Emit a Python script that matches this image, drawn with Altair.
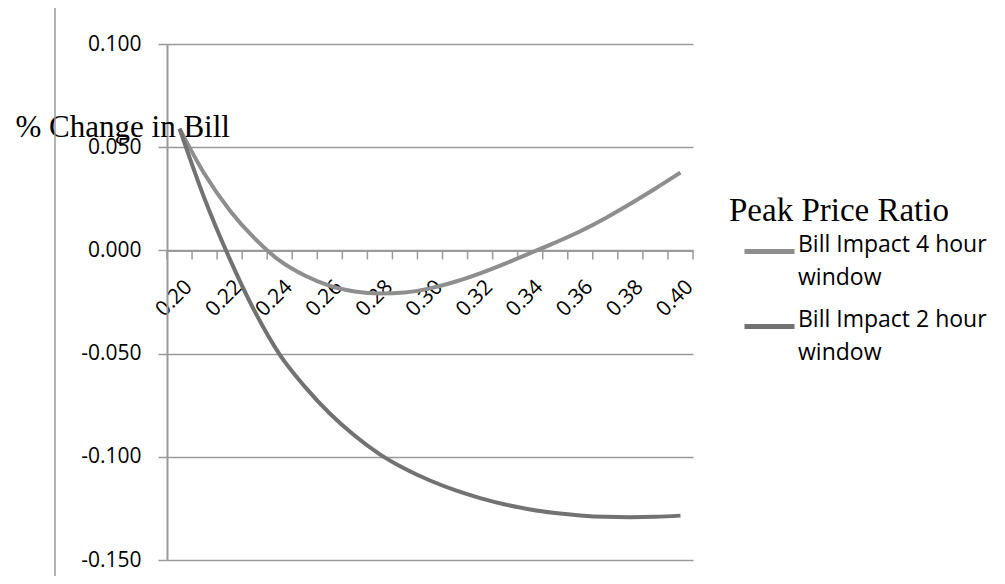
import altair as alt
import pandas as pd

ratio = [0.20, 0.21, 0.22, 0.23, 0.24, 0.25, 0.26, 0.27, 0.28, 0.29, 0.30,
         0.31, 0.32, 0.33, 0.34, 0.35, 0.36, 0.37, 0.38, 0.39, 0.40]
impact_4h = [0.0590, 0.0370, 0.0195, 0.0058, -0.0050, -0.0122, -0.0172, -0.0199,
             -0.0209, -0.0204, -0.0184, -0.0152, -0.0111, -0.0064, -0.0013, 0.0038,
             0.0093, 0.0156, 0.0226, 0.0300, 0.0377]
impact_2h = [0.0590, 0.0250, -0.0040, -0.0295, -0.0505, -0.0660, -0.0790, -0.0898,
             -0.0988, -0.1058, -0.1115, -0.1162, -0.1200, -0.1231, -0.1255, -0.1272,
             -0.1284, -0.1291, -0.1293, -0.1291, -0.1285]
series_names = ["Bill Impact 4 hour window", "Bill Impact 2 hour window"]
series_colors = ["#8e8e8e", "#727272"]
x_labels = [0.20, 0.22, 0.24, 0.26, 0.28, 0.30, 0.32, 0.34, 0.36, 0.38, 0.40]
y_ticks = [-0.15, -0.10, -0.05, 0.0, 0.05, 0.10]

half_step = 0.005
x_bounds = [r - half_step for r in ratio] + [ratio[-1] + half_step]

rows = []
for r, a, b in zip(ratio, impact_4h, impact_2h):
    rows.append({"ratio": r, "impact": a, "series": series_names[0]})
    rows.append({"ratio": r, "impact": b, "series": series_names[1]})
df = pd.DataFrame(rows)

W, H = 526, 516
GRID = "#9a9a9a"
LABEL_FONT = "Open Sans"

x_scale = alt.Scale(domain=[x_bounds[0], x_bounds[-1]], nice=False, zero=False)
y_scale = alt.Scale(domain=[-0.15, 0.10], nice=False, zero=False)

# category tick marks hanging below the zero axis line
tick_marks = alt.Chart(pd.DataFrame({"b": x_bounds})).mark_rule(
    color=GRID, strokeWidth=1.5, y2Offset=9
).encode(
    x=alt.X("b:Q", scale=x_scale),
    y=alt.datum(0),
    y2=alt.datum(0),
)

# left frame line of the original figure
frame = alt.Chart(pd.DataFrame({"k": [0]})).mark_rule(
    color=GRID, strokeWidth=1.5
).encode(
    x=alt.value(-112), y=alt.value(-44), y2=alt.value(H + 30)
)

lines = alt.Chart(df).mark_line(interpolate="monotone", strokeWidth=4).encode(
    x=alt.X(
        "ratio:Q",
        scale=x_scale,
        axis=alt.Axis(
            values=x_labels, format=".2f", labelAngle=-45, labelAlign="right",
            labelBaseline="middle", labelPadding=33, labelOffset=9,
            labelFont=LABEL_FONT, labelFontSize=21, labelColor="black",
            labelFlush=False, labelOverlap=False, labelBound=False,
            ticks=False, grid=False, domainColor=GRID, domainWidth=2,
            offset=-(H * 0.6), title=None,
        ),
    ),
    y=alt.Y(
        "impact:Q",
        scale=y_scale,
        axis=alt.Axis(
            values=y_ticks,
            labelExpr="replace(format(datum.value, '.3f'), '\u2212', '-')",
            labelFont=LABEL_FONT, labelFontSize=21, labelColor="black",
            labelPadding=17, tickSize=9, tickColor=GRID, tickWidth=1.5,
            domainColor=GRID, domainWidth=2, grid=True, gridColor=GRID,
            gridWidth=1.5, gridOpacity=1,
            title="% Change in Bill", titleAngle=0, titleX=-152, titleY=92,
            titleAlign="left", titleBaseline="alphabetic",
            titleFont="Liberation Serif", titleFontSize=31,
            titleFontWeight="normal", titleColor="black",
        ),
    ),
    color=alt.Color(
        "series:N",
        scale=alt.Scale(domain=series_names, range=series_colors),
        legend=alt.Legend(
            title="Peak Price Ratio", titleFont="Liberation Serif",
            titleFontSize=33, titleFontWeight="normal", titleColor="black",
            titleLimit=0, titlePadding=-4, orient="none", legendX=562,
            legendY=151, symbolType="stroke", symbolSize=2500,
            symbolStrokeWidth=5, symbolOffset=13,
            labelFont=LABEL_FONT, labelFontSize=23, labelColor="black",
            labelExpr="split(replace(datum.label, ' window', '|window'), '|')",
            labelBaseline="alphabetic", labelOffset=1, labelLimit=0,
            rowPadding=9, padding=0,
        ),
    ),
)

chart = alt.layer(frame, tick_marks, lines).properties(
    width=W, height=H,
    autosize=alt.AutoSizeParams(type="none"),
    padding={"left": 159, "top": 36, "right": 304, "bottom": 16},
).configure(
    style={"guide-label": {"lineHeight": 33}}
).configure_view(stroke=None)

chart.save("out.html", embed_options={"renderer": "svg", "actions": False})
